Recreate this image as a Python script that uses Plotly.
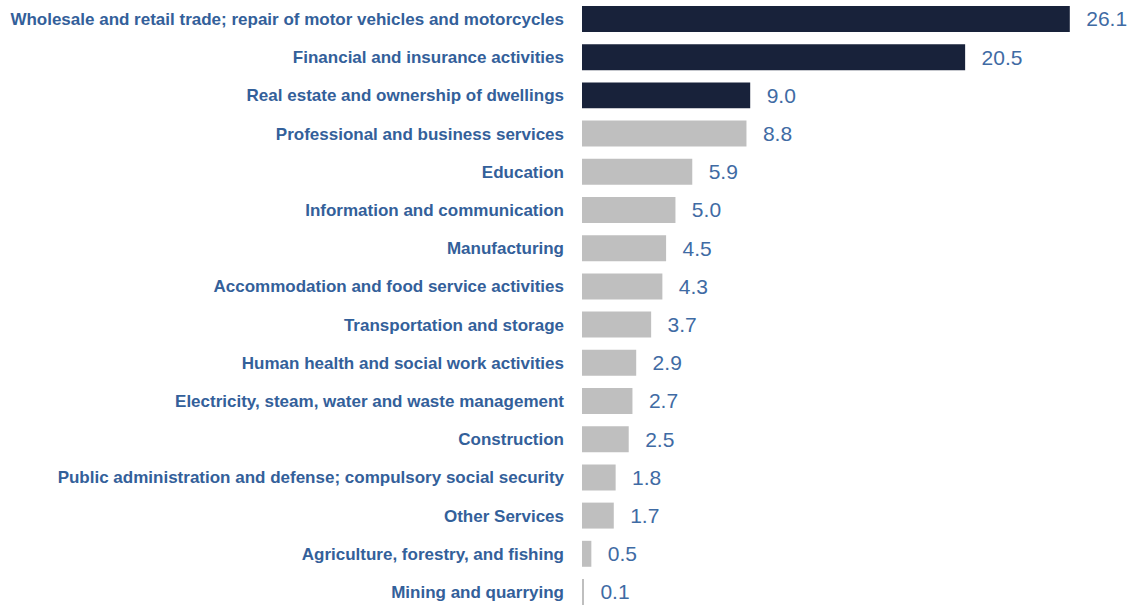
import plotly.graph_objects as go

categories = [
    "Wholesale and retail trade; repair of motor vehicles and motorcycles",
    "Financial and insurance activities",
    "Real estate and ownership of dwellings",
    "Professional and business services",
    "Education",
    "Information and communication",
    "Manufacturing",
    "Accommodation and food service activities",
    "Transportation and storage",
    "Human health and social work activities",
    "Electricity, steam, water and waste management",
    "Construction",
    "Public administration and defense; compulsory social security",
    "Other Services",
    "Agriculture, forestry, and fishing",
    "Mining and quarrying",
]
values = [26.1, 20.5, 9.0, 8.8, 5.9, 5.0, 4.5, 4.3, 3.7, 2.9, 2.7, 2.5, 1.8, 1.7, 0.5, 0.1]
highlight = [True, True, True] + [False] * 13

DARK = "#18223a"
GRAY = "#bfbfbf"
LABEL_BLUE = "#33609a"
VALUE_BLUE = "#3f6ba4"

colors = [DARK if h else GRAY for h in highlight]

fig = go.Figure(
    go.Bar(
        x=values,
        y=categories,
        orientation="h",
        marker=dict(color=colors, line=dict(width=0)),
        width=0.68,
        text=["  \u200a" + f"{v:.1f}" for v in values],
        textposition="outside",
        textfont=dict(family="Liberation Sans, Arial, sans-serif", size=21, color=VALUE_BLUE),
        cliponaxis=False,
        hoverinfo="skip",
    )
)

fig.update_layout(
    width=1130,
    height=608,
    margin=dict(l=582, r=6, t=0, b=0),
    paper_bgcolor="white",
    plot_bgcolor="white",
    showlegend=False,
    xaxis=dict(range=[0, 29], visible=False),
    yaxis=dict(
        categoryorder="array",
        categoryarray=categories,
        range=[15.419, -0.497],
        showgrid=False,
        showline=False,
        zeroline=False,
        ticks="",
        ticklabelstandoff=17,
        tickfont=dict(family="Liberation Sans, Arial, sans-serif", size=17, color=LABEL_BLUE, weight="bold"),
    ),
)

fig.write_html(
    "out.html",
    config={"displayModeBar": False},
    post_script="document.body.style.margin='0';",
)
